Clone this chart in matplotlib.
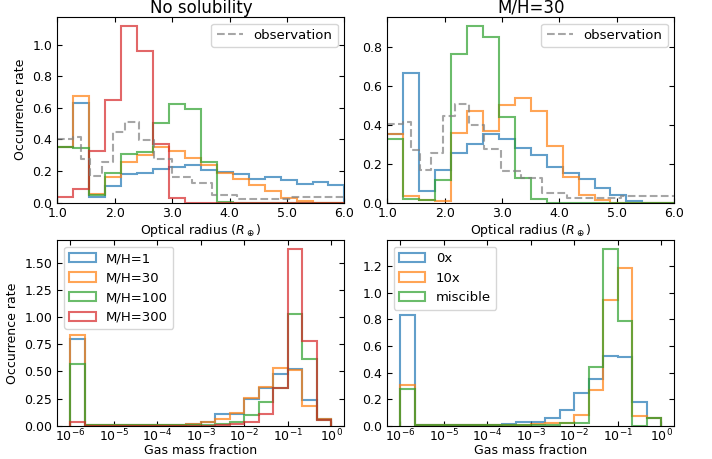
import numpy as np
import matplotlib
matplotlib.use('Agg')
import matplotlib.pyplot as plt
from matplotlib.ticker import FormatStrFormatter, NullLocator

# bin edges: 18 linear radius bins, 18 log bins in gas mass fraction
radius_edges = np.linspace(1.0, 6.0, 19)
fgas_edges = np.logspace(-6, 0, 19)

# observed radius distribution (log-spaced bins)
obs_edges = [1.0, 1.278, 1.421, 1.57, 1.77, 1.965, 2.18, 2.43, 2.69, 2.99,
             3.337, 3.69, 4.13, 4.58, 5.07, 5.62, 6.0]
obs_rate = [0.405, 0.413, 0.273, 0.168, 0.257, 0.444, 0.508, 0.398, 0.275,
            0.164, 0.125, 0.048, 0.025, 0.023, 0.035, 0.033]

# no solubility, optical radius
nosol_r_mh1 = [0.35, 0.633, 0.032, 0.104, 0.18, 0.19, 0.21, 0.227, 0.235,
               0.205, 0.195, 0.178, 0.148, 0.163, 0.144, 0.119, 0.131, 0.114]
nosol_r_mh30 = [0.35, 0.672, 0.055, 0.161, 0.258, 0.30, 0.35, 0.328, 0.284,
                0.24, 0.19, 0.148, 0.114, 0.072, 0.03, 0.008, 0.0, 0.0]
nosol_r_mh100 = [0.35, 0.347, 0.047, 0.184, 0.305, 0.322, 0.506, 0.627, 0.595,
                 0.258, 0.004, 0.0, 0.0, 0.0, 0.0, 0.0, 0.0, 0.0]
nosol_r_mh300 = [0.036, 0.087, 0.324, 0.65, 1.12, 0.958, 0.37, 0.03, 0.0,
                 0.0, 0.0, 0.0, 0.0, 0.0, 0.0, 0.0, 0.0, 0.0]

# M/H=30, optical radius
mh30_r_0x = [0.353, 0.667, 0.058, 0.165, 0.257, 0.302, 0.352, 0.327, 0.283,
             0.245, 0.184, 0.15, 0.12, 0.075, 0.041, 0.01, 0.0, 0.0]
mh30_r_10x = [0.353, 0.033, 0.015, 0.01, 0.36, 0.472, 0.37, 0.50, 0.536,
              0.469, 0.291, 0.133, 0.038, 0.012, 0.0, 0.0, 0.0, 0.0]
mh30_r_misc = [0.327, 0.02, 0.015, 0.117, 0.765, 0.91, 0.853, 0.44, 0.127,
               0.02, 0.0, 0.0, 0.0, 0.0, 0.0, 0.0, 0.0, 0.0]

# no solubility, gas mass fraction
nosol_f_mh1 = [0.80, 0.005, 0.005, 0.005, 0.005, 0.005, 0.005, 0.005, 0.02,
               0.03, 0.11, 0.11, 0.25, 0.343, 0.475, 0.52, 0.233, 0.06]
nosol_f_mh30 = [0.83, 0.005, 0.005, 0.005, 0.005, 0.005, 0.005, 0.005, 0.02,
                0.03, 0.06, 0.12, 0.255, 0.355, 0.53, 0.51, 0.184, 0.06]
nosol_f_mh100 = [0.565, 0.005, 0.005, 0.005, 0.005, 0.005, 0.005, 0.005, 0.005,
                 0.01, 0.015, 0.034, 0.10, 0.218, 0.346, 1.027, 0.616, 0.055]
nosol_f_mh300 = [0.03, 0.002, 0.002, 0.002, 0.002, 0.002, 0.002, 0.002, 0.002,
                 0.002, 0.005, 0.015, 0.035, 0.107, 0.346, 1.625, 0.78, 0.055]

# M/H=30, gas mass fraction
mh30_f_0x = [0.83, 0.005, 0.005, 0.005, 0.005, 0.005, 0.005, 0.013, 0.025,
             0.03, 0.055, 0.118, 0.25, 0.352, 0.528, 0.516, 0.181, 0.058]
mh30_f_10x = [0.307, 0.005, 0.005, 0.005, 0.005, 0.005, 0.005, 0.005, 0.005,
              0.01, 0.023, 0.023, 0.08, 0.27, 0.943, 1.187, 0.073, 0.058]
mh30_f_misc = [0.277, 0.005, 0.005, 0.005, 0.005, 0.005, 0.005, 0.005, 0.005,
               0.005, 0.005, 0.018, 0.018, 0.443, 1.33, 0.79, 0.0, 0.058]

nosol_labels = ['M/H=1', 'M/H=30', 'M/H=100', 'M/H=300']
mh30_labels = ['0x', '10x', 'miscible']
colors = ['tab:blue', 'tab:orange', 'tab:green', 'tab:red']


def step_hist(ax, edges, values, color, label=None, log=False):
    edges = np.asarray(edges)
    if log:
        centers = np.sqrt(edges[:-1] * edges[1:])
    else:
        centers = 0.5 * (edges[:-1] + edges[1:])
    ax.hist(centers, bins=edges, weights=values, histtype='step',
            color=color, alpha=0.7, lw=1.5, label=label)


def plot_obs(ax):
    y = np.append(obs_rate, obs_rate[-1])
    ax.step(obs_edges, y, where='post', color='gray', ls='--', lw=1.5,
            alpha=0.7, label='observation')


fig, axes = plt.subplots(2, 2, figsize=(7.12, 4.59), dpi=100)
plt.subplots_adjust(left=0.0805, right=0.947, top=0.963, bottom=0.0725,
                    wspace=0.149, hspace=0.203)

# top row: optical radius
ax = axes[0, 0]
for vals, c in zip([nosol_r_mh1, nosol_r_mh30, nosol_r_mh100, nosol_r_mh300], colors):
    step_hist(ax, radius_edges, vals, c)
plot_obs(ax)
ax.set_title('No solubility', fontsize=12, pad=3)
ax.set_ylabel('Occurrence rate', fontsize=9)

ax = axes[0, 1]
for vals, c in zip([mh30_r_0x, mh30_r_10x, mh30_r_misc], colors):
    step_hist(ax, radius_edges, vals, c)
plot_obs(ax)
ax.set_title('M/H=30', fontsize=12, pad=3)

for ax in axes[0]:
    ax.set_xlim(1, 6)
    ax.set_xticks(np.arange(1, 7))
    ax.xaxis.set_major_formatter(FormatStrFormatter('%.1f'))
    ax.set_xlabel(r'Optical radius ($R_\oplus$)', fontsize=9, labelpad=1)
    ax.legend(loc='upper right', fontsize=9.5)

# bottom row: gas mass fraction
ax = axes[1, 0]
for vals, c, lab in zip([nosol_f_mh1, nosol_f_mh30, nosol_f_mh100, nosol_f_mh300],
                        colors, nosol_labels):
    step_hist(ax, fgas_edges, vals, c, label=lab, log=True)
ax.set_yticks(np.arange(0, 1.51, 0.25))
ax.yaxis.set_major_formatter(FormatStrFormatter('%.2f'))
ax.set_ylabel('Occurrence rate', fontsize=9)

ax = axes[1, 1]
for vals, c, lab in zip([mh30_f_0x, mh30_f_10x, mh30_f_misc], colors, mh30_labels):
    step_hist(ax, fgas_edges, vals, c, label=lab, log=True)
ax.set_yticks(np.arange(0, 1.21, 0.2))
ax.yaxis.set_major_formatter(FormatStrFormatter('%.1f'))

for ax in axes.flat:
    ax.tick_params(direction='in', top=True, right=True, labelsize=9)

for ax in axes[1]:
    ax.set_xscale('log')
    ax.xaxis.set_minor_locator(NullLocator())
    ax.tick_params(axis='x', pad=1.5)
    ax.set_xlabel('Gas mass fraction', fontsize=9, labelpad=0)
    ax.legend(loc='upper left', fontsize=9.5)

fig.savefig('out.png', dpi=100)
